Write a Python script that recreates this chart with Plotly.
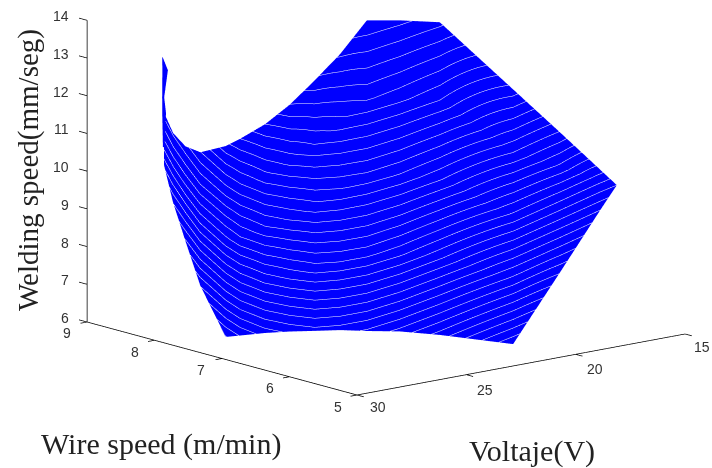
import numpy as np
import plotly.graph_objects as go

# surface: voltage (V), wire speed (m/min), welding speed (mm/seg)
voltage=[[24.68,26.19,27.57,28.89,29.92,29.97,29.57,28.64,27.09,25.04,22.42,21.00,19.24,18.15,16.26,14.18,13.12],
[24.93,26.54,28.04,29.55,30.86,31.09,30.99,30.33,29.34,27.95,26.09,24.50,22.43,19.63,16.95,14.23,13.12],
[25.19,26.79,28.30,29.93,31.53,31.98,32.02,31.53,30.86,29.75,28.29,26.60,24.36,20.48,17.13,14.27,13.12],
[25.34,26.87,28.41,30.07,31.73,32.22,32.46,32.24,31.82,30.91,29.67,27.82,25.32,20.74,17.29,14.32,13.12],
[25.40,26.94,28.51,30.20,31.90,32.39,32.67,32.49,32.09,31.21,30.00,28.14,25.59,20.67,17.41,14.37,13.12]]
wire=[[9.58,8.96,8.33,7.68,6.97,6.74,6.50,6.43,6.57,6.86,7.31,7.28,7.26,6.53,6.45,6.53,6.62],
[9.50,8.85,8.18,7.47,6.66,6.38,6.04,5.885,5.84,5.92,6.12,6.15,6.22,6.05,6.22,6.51,6.62],
[9.42,8.76,8.10,7.35,6.45,6.09,5.71,5.50,5.34,5.33,5.41,5.46,5.60,5.77,6.16,6.50,6.62],
[9.37,8.74,8.06,7.30,6.38,6.01,5.57,5.27,5.03,4.96,4.96,5.07,5.29,5.69,6.11,6.48,6.62],
[9.35,8.72,8.03,7.26,6.33,5.96,5.50,5.19,4.95,4.86,4.85,4.97,5.20,5.71,6.07,6.47,6.62]]
welding=[[10.68,10.62,10.72,11.02,11.64,11.95,12.41,12.87,13.27,13.60,14.0,13.86,13.63,12.09,10.79,9.54,8.96],
[10.4,10.25,10.22,10.31,10.62,10.94,11.4,11.81,12.21,12.54,12.91,12.72,12.4,10.79,10.04,9.28,8.96],
[10.13,9.86,9.67,9.53,9.53,9.87,10.29,10.62,10.95,11.19,11.43,11.22,10.84,9.33,9.16,9.01,8.96],
[9.82,9.42,9.08,8.69,8.32,8.63,9.02,9.30,9.54,9.67,9.74,9.48,9.02,7.71,8.28,8.75,8.96],
[9.49,8.99,8.48,7.84,7.1,7.37,7.69,7.86,7.95,7.92,7.77,7.5,7.02,6.0,7.38,8.48,8.96]]
horn_voltage=[[27.89,27.87],[28.44,28.28],[28.88,28.82],[28.97,28.86],[28.94,28.89]]
horn_wire=[[8.57,8.57],[8.39,8.36],[8.25,8.24],[8.22,8.2],[8.22,8.21]]
horn_welding=[[13,13],[12.8,12.8],[12.2,12.2],[11.8,11.8],[10.9,10.9]]
voltage_ticks=[30,25,20,15]
wire_ticks=[9,8,7,6,5]
welding_ticks=[6,7,8,9,10,11,12,13,14]

VR=[33,13];WR=[4.8,9.7];ZR=[5.8,14.2]
pv,pw,pz=28.41,105.7,38.7
P=234.0
ax=(VR[0]-VR[1])*pv/P;ay=(WR[1]-WR[0])*pw/P;az=(ZR[1]-ZR[0])*pz/P
a1=np.radians(39.67);ph=np.radians(12.96)
dirv=np.array([-np.sin(a1)*np.cos(ph),-np.cos(a1)*np.cos(ph),np.sin(ph)])
r=np.array([np.cos(a1),-np.sin(a1),0])
u=np.cross(r,-dirv)
s0=np.array([((VR[0]-30)/(VR[0]-VR[1])-.5)*ax,((5-WR[0])/(WR[1]-WR[0])-.5)*ay,((6-ZR[0])/(ZR[1]-ZR[0])-.5)*az])
c=(s0@r-1/P)*r+(s0@u+161/P)*u
eye=c+5*dirv

blue=[[0,'#0000ff'],[1,'#0000ff']]
flat=dict(ambient=1,diffuse=0,specular=0,fresnel=0,roughness=1)
fig=go.Figure()
fig.add_trace(go.Surface(x=voltage,y=wire,z=welding,colorscale=blue,showscale=False,lighting=flat,hoverinfo='skip',
  contours=dict(z=dict(show=True,start=6.2,end=13.9,size=.23,color='white',width=2,highlight=False),
                x=dict(highlight=False),y=dict(highlight=False))))
fig.add_trace(go.Surface(x=horn_voltage,y=horn_wire,z=horn_welding,colorscale=blue,showscale=False,lighting=flat,hoverinfo='skip',
  contours=dict(x=dict(highlight=False),y=dict(highlight=False),z=dict(highlight=False))))
line=dict(color='black',width=1.5)
fig.add_trace(go.Scatter3d(x=[30,15],y=[5,5],z=[6,6],mode='lines',line=line,showlegend=False,hoverinfo='skip'))
fig.add_trace(go.Scatter3d(x=[30,30],y=[5,9],z=[6,6],mode='lines',line=line,showlegend=False,hoverinfo='skip'))
fig.add_trace(go.Scatter3d(x=[30,30],y=[9,9],z=[6,14],mode='lines',line=line,showlegend=False,hoverinfo='skip'))
for v in voltage_ticks:
    fig.add_trace(go.Scatter3d(x=[v,v],y=[5,4.9],z=[6,6],mode='lines',line=line,showlegend=False,hoverinfo='skip'))
for w in wire_ticks:
    fig.add_trace(go.Scatter3d(x=[30,30.3],y=[w,w],z=[6,6],mode='lines',line=line,showlegend=False,hoverinfo='skip'))
for h in welding_ticks:
    fig.add_trace(go.Scatter3d(x=[30,30],y=[9,9.12],z=[h,h],mode='lines',line=line,showlegend=False,hoverinfo='skip'))
tf=dict(family='Liberation Sans',size=14,color='#333333')
ann=[]
for v,(dx,dy) in zip(voltage_ticks,[(21,-12),(19,-15),(19,-15),(17,-13)]):
    ann.append(dict(x=v,y=5,z=6,text=str(v),showarrow=False,xshift=dx,yshift=dy,font=tf))
for w,(dx,dy) in zip(wire_ticks,[(-20,-11),(-20,-12),(-21,-11.5),(-19.5,-11),(-19,-12)]):
    ann.append(dict(x=30,y=w,z=6,text=str(w),showarrow=False,xshift=dx,yshift=dy,font=tf))
for h in welding_ticks:
    ann.append(dict(x=30,y=9,z=h,text=str(h),showarrow=False,xanchor='right',xshift=-16,yshift=4,font=tf))
fig.update_layout(width=712,height=468,margin=dict(l=0,r=0,t=0,b=0),paper_bgcolor='white',showlegend=False,
  scene=dict(domain=dict(x=[0,1],y=[0,1]),bgcolor='white',
    xaxis=dict(range=VR,visible=False),yaxis=dict(range=WR,visible=False),zaxis=dict(range=ZR,visible=False),
    aspectmode='manual',aspectratio=dict(x=ax,y=ay,z=az),annotations=ann,
    camera=dict(projection=dict(type='orthographic'),up=dict(x=0,y=0,z=1),
      center=dict(x=c[0],y=c[1],z=c[2]),eye=dict(x=eye[0],y=eye[1],z=eye[2]))),
  annotations=[
    dict(xref='paper',yref='paper',x=28/712,y=1-170/468,xanchor='center',yanchor='middle',text='Welding speed(mm/seg)',textangle=-90,showarrow=False,
         font=dict(family='Liberation Serif',size=29,color='#222222')),
    dict(xref='paper',yref='paper',x=161/712,y=1-444/468,xanchor='center',yanchor='middle',text='Wire speed (m/min)',showarrow=False,
         font=dict(family='Liberation Serif',size=30,color='#222222')),
    dict(xref='paper',yref='paper',x=532/712,y=1-451/468,xanchor='center',yanchor='middle',text='Voltaje(V)',showarrow=False,
         font=dict(family='Liberation Serif',size=30,color='#222222')),
  ])
fig.write_html("out.html",config=dict(displayModeBar=False),post_script="document.body.style.margin='0';document.documentElement.style.overflow='hidden';")
